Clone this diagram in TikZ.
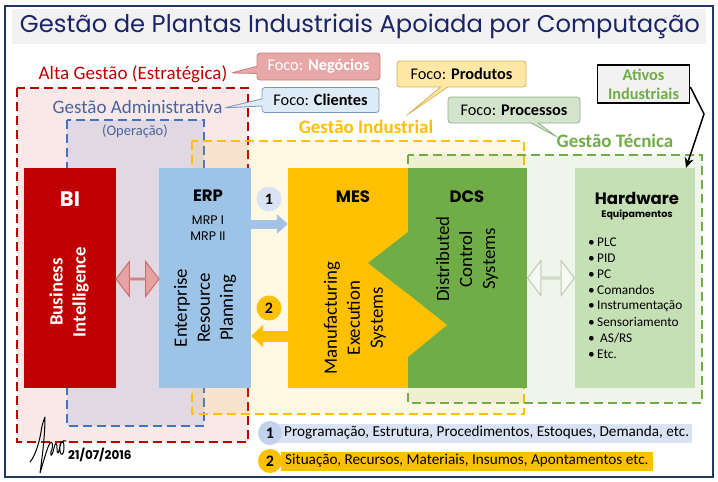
\documentclass[tikz,border=0pt]{standalone}
\usepackage{fontspec}
\setmainfont{Carlito}
\newfontfamily\comic{Poppins}
\usetikzlibrary{shapes.arrows,shapes.callouts,arrows.meta,calc}
\definecolor{navy}{HTML}{1B2466}
\definecolor{frame}{HTML}{1F3864}
\definecolor{cred}{HTML}{C00000}
\definecolor{cblue}{HTML}{4472C4}
\definecolor{cyel}{HTML}{FFC000}
\definecolor{cgreen}{HTML}{70AD47}
\definecolor{admtext}{HTML}{4A6498}
\definecolor{erpblue}{HTML}{9DC3E6}
\definecolor{arr1}{HTML}{A4C2E6}
\definecolor{hwgreen}{HTML}{C5E0B4}
\definecolor{dcsgreen}{HTML}{70AD47}
\definecolor{biarrow}{HTML}{E6A3A3}
\definecolor{biarrowd}{HTML}{C87070}
\definecolor{negfill}{HTML}{E8A8A8}
\definecolor{negdraw}{HTML}{C48080}
\definecolor{clifill}{HTML}{DDEBF7}
\definecolor{clidraw}{HTML}{7A96BE}
\definecolor{profill}{HTML}{FFE8A6}
\definecolor{prodraw}{HTML}{D4B45A}
\definecolor{procfill}{HTML}{D3E3CC}
\definecolor{procdraw}{HTML}{8FB08A}
\definecolor{leg1}{HTML}{DAE3F3}
\begin{document}
\begin{tikzpicture}[x=1pt,y=-1pt,
  region/.style={line width=2.4pt, dash pattern=on 9pt off 5pt},
  mainbox/.style={draw=none, minimum height=220pt, inner sep=0pt},
  rottext/.style={rotate=90, align=center, font=\fontsize{18.8}{23}\selectfont},
  boxtitle/.style={font=\comic\bfseries\fontsize{16.5}{19}\selectfont},
  callbox/.style={rectangle callout, rounded corners=3pt, line width=0.8pt, inner sep=0pt, font=\fontsize{16.3}{18}\selectfont},
  hwitem/.style={anchor=west, inner sep=0pt, font=\fontsize{13.3}{15}\selectfont},
  numcirc/.style={circle, inner sep=0pt, minimum size=25pt, font=\bfseries\fontsize{16}{18}\selectfont},
  legtext/.style={anchor=west, inner sep=2pt, minimum height=19pt, font=\fontsize{15.2}{17}\selectfont},
  reglabel/.style={inner sep=0pt, font=\fontsize{19}{22}\selectfont}
]
\useasboundingbox (0,0) rectangle (718,482);
\fill[white] (0,0) rectangle (718,482);
% title band and frame
\fill[black!5] (12,9) rectangle (706,44);
\draw[frame, line width=2.5pt] (5,6) rectangle (713,477);
\node[text=navy, inner sep=0pt] (title) at (360,26) {\resizebox{680pt}{!}{\comic Gestão de Plantas Industriais Apoiada por Computação}};

% regions
\path[region, draw=cred, fill=cred, fill opacity=0.09] (17,88) rectangle (248,442);
\path[region, draw=cblue, fill=cblue, fill opacity=0.13] (67,120) rectangle (204,426);
\path[region, draw=cyel, fill=cyel, fill opacity=0.11] (192,141) rectangle (524,414);
\path[region, draw=cgreen, fill=cgreen, fill opacity=0.11] (408,155) rectangle (702,403);

% region labels
\node[reglabel, text=cred] (lalta) at (133,74) {Alta Gestão (Estratégica)};
\node[reglabel, text=admtext] (ladm) at (137.5,107) {Gestão Administrativa};
\node[reglabel, text=admtext, font=\fontsize{14.5}{17}\selectfont] (lop) at (135,131) {(Operação)};
\node[reglabel, text=cyel, font=\bfseries\fontsize{19}{22}\selectfont] (lind) at (366,127) {Gestão Industrial};
\node[reglabel, text=cgreen, font=\bfseries\fontsize{19}{22}\selectfont] (ltec) at (615,141) {Gestão Técnica};

% main boxes
\node[mainbox, fill=cred, minimum width=92pt] (bi) at (70,278) {};
\node[mainbox, fill=erpblue, minimum width=92pt] (erp) at (205,278) {};
\node[mainbox, fill=cyel, minimum width=120pt] (mes) at (348,278) {};
\node[mainbox, fill=dcsgreen, minimum width=119pt] (dcs) at (467.5,278) {};
\node[mainbox, fill=hwgreen, minimum width=120pt] (hw) at (635,278) {};
% zigzag between MES and DCS
\fill[dcsgreen] (408,232) -- (368,263) -- (408,294) -- cycle;
\fill[cyel] (408,294) -- (447,325) -- (408,357) -- cycle;

% box texts
\node[boxtitle, text=white, font=\comic\bfseries\fontsize{21}{24}\selectfont] (bit) at (70,199) {BI};
\node[rottext, text=white, font=\bfseries\fontsize{18.8}{23}\selectfont] (bir) at (69,292) {Business\\Intelligence};
\node[boxtitle] (erpt) at (208,196) {ERP};
\node[align=center, font=\comic\fontsize{12.5}{16}\selectfont, inner sep=0pt] (mrp) at (208,228) {MRP I\\MRP II};
\node[rottext] (erpr) at (205,308) {Enterprise\\Resource\\Planning};
\node[boxtitle] (mest) at (353,197) {MES};
\node[rottext] (mesr) at (355,318) {Manufacturing\\Execution\\Systems};
\node[boxtitle] (dcst) at (467,197) {DCS};
\node[rottext] (dcsr) at (467,259) {Distributed\\Control\\Systems};
\node[boxtitle, font=\comic\bfseries\fontsize{16.5}{19}\selectfont] (hwt) at (637,198) {Hardware};
\node[font=\comic\bfseries\fontsize{9.5}{11}\selectfont, inner sep=0pt] (hweq) at (637,215) {Equipamentos};
\foreach \t [count=\i] in {PLC,PID,PC,Comandos,Instrumentação,Sensoriamento,\ AS/RS,Etc.}
  \node[hwitem] (hw\i) at (588,{242+16*(\i-1)}) {\makebox[9pt][l]{\textbullet}\t};

% double arrows
\node[double arrow, fill=biarrow, draw=biarrowd, line width=1pt, minimum height=43pt, minimum width=35pt, double arrow head extend=8.5pt, double arrow tip angle=105, inner sep=0pt] (bierp) at (137.5,279) {};
\node[double arrow, fill=white!85!hwgreen, draw=hwgreen!80!black!70, line width=1pt, minimum height=47pt, minimum width=35pt, double arrow head extend=8.5pt, double arrow tip angle=105, inner sep=0pt] (dcshw) at (551,278) {};

% flow arrows
\coordinate (y1) at (0,224);
\coordinate (y2) at (0,336);
\draw[arr1, line width=9pt, -{Triangle[length=11pt,width=19pt]}] (erp.east |- y1) -- (mes.west |- y1);
\draw[cyel, line width=11pt, -{Triangle[length=12pt,width=22pt]}] (mes.west |- y2) -- (erp.east |- y2);
\node[numcirc, fill=leg1] (c1) at (269,199) {1};
\node[numcirc, fill=cyel] (c2) at (269,308) {2};

% callouts
\node[callbox, fill=negfill, draw=negdraw, text=white, minimum width=123pt, minimum height=27pt, callout absolute pointer={(231,73)}] (neg) at (318.5,66.5) {Foco: \textbf{Negócios}};
\node[callbox, fill=clifill, draw=clidraw, minimum width=117pt, minimum height=25pt, callout absolute pointer={(224,108)}] (cli) at (320.5,100) {Foco: \textbf{Clientes}};
\node[callbox, fill=profill, draw=prodraw, minimum width=129pt, minimum height=26pt, callout absolute pointer={(407,115)}] (pro) at (461.5,74) {Foco: \textbf{Produtos}};
\node[callbox, fill=procfill, draw=procdraw, minimum width=132pt, minimum height=26pt, callout absolute pointer={(557,137)}] (proc) at (514,110) {Foco: \textbf{Processos}};

% Ativos
\node[draw=black, line width=1.8pt, fill=black!5, minimum width=92pt, minimum height=38pt, inner sep=0pt, align=center, text=cgreen, font=\bfseries\fontsize{16.3}{19}\selectfont] (ativos) at (643.5,84) {Ativos\\Industriais};
\coordinate (bend) at (704,114);
\draw[line width=1.5pt, -{Stealth[length=10pt,width=9pt]}] (ativos.east |- 0,87) -- (bend) -- (hw.north east -| 686,0) ;

% legend
\node[legtext, fill=leg1, inner xsep=3pt] (leg1t) at (275,433) {\hspace{6pt}Programação, Estrutura, Procedimentos, Estoques, Demanda, etc.};
\node[numcirc, fill=leg1!85!cblue, minimum size=24pt] (l1) at (270,433) {1};
\node[legtext, fill=cyel, inner xsep=4pt] (leg2t) at (281,461) {Situação, Recursos, Materiais, Insumos, Apontamentos etc.};
\node[numcirc, fill=cyel, minimum size=24pt] (l2) at (270,461) {2};

% signature and date
\draw[line width=1pt, line cap=round, line join=round] (30,462) .. controls (35,456) and (39,444) .. (41,432) .. controls (42,424) and (44,420) .. (45,417)
  .. controls (45,432) and (43,452) .. (40,473) .. controls (44,460) and (47,448) .. (50,443)
  .. controls (52,440) and (54,445) .. (51,452) .. controls (50,457) and (52,457) .. (54,448)
  .. controls (55,443) and (57,441) .. (57,448) .. controls (57,456) and (59,454) .. (60,445)
  .. controls (61,440) and (64,440) .. (64,447) .. controls (64,455) and (61,457) .. (60,451)
  .. controls (59,445) and (62,439) .. (66,441);
\node[font=\comic\bfseries\fontsize{12}{14}\selectfont, inner sep=0pt, anchor=west] (date) at (68,455) {21/07/2016};
\end{tikzpicture}
\end{document}
